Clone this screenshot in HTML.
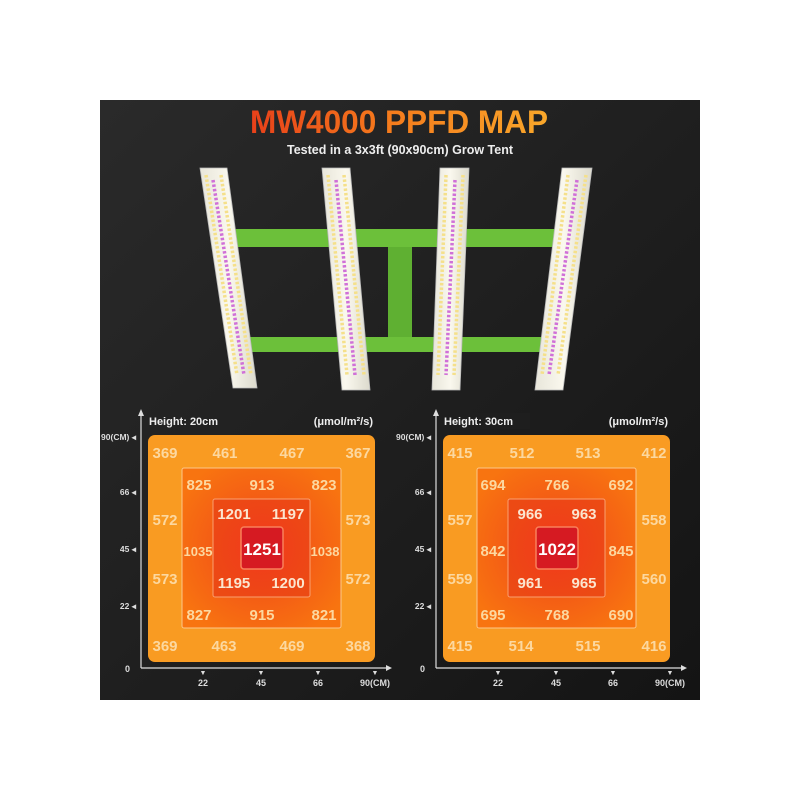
<!DOCTYPE html>
<html><head><meta charset="utf-8"><style>
html,body{margin:0;padding:0;background:#fff;}
svg{display:block;}
text{font-family:"Liberation Sans",Arial,sans-serif;font-weight:bold;}
</style></head><body>
<svg width="800" height="800" viewBox="0 0 800 800" xmlns="http://www.w3.org/2000/svg">
<defs>
<linearGradient id="bg" x1="0" y1="0" x2="1" y2="1"><stop offset="0" stop-color="#2a2a2a"/><stop offset="1" stop-color="#141414"/></linearGradient>
<linearGradient id="tg" x1="0" y1="0" x2="1" y2="0"><stop offset="0" stop-color="#e8401a"/><stop offset="0.45" stop-color="#f57a1c"/><stop offset="1" stop-color="#f9a72a"/></linearGradient>
<radialGradient id="mid" cx="0.5" cy="0.5" r="0.6"><stop offset="0" stop-color="#f0451a"/><stop offset="1" stop-color="#f87410"/></radialGradient>
<radialGradient id="inn" cx="0.5" cy="0.5" r="0.6"><stop offset="0" stop-color="#f23a1c"/><stop offset="1" stop-color="#ec4a14"/></radialGradient>
<linearGradient id="bar" x1="0" y1="0" x2="1" y2="0"><stop offset="0" stop-color="#e8e6da"/><stop offset="0.5" stop-color="#faf8ee"/><stop offset="1" stop-color="#dcdacd"/></linearGradient>
<g id="chart">
  <line x1="141" y1="668" x2="141" y2="413" stroke="#ddd" stroke-width="1.2"/>
  <line x1="141" y1="668" x2="390" y2="668" stroke="#ddd" stroke-width="1.2"/>
  <path d="M138,416 L141,409 L144,416Z M386,665 L392,668 L386,671Z" fill="#ddd"/>
  <rect x="148" y="435" width="227" height="227" rx="7" fill="#f99b22"/>
  <rect x="182" y="468" width="159" height="160" rx="2" fill="url(#mid)" stroke="#fbc78a" stroke-width="1"/>
  <rect x="213" y="499" width="97" height="98" rx="2" fill="url(#inn)" stroke="#f9a070" stroke-width="1"/>
  <rect x="241" y="527" width="42" height="42" rx="3" fill="#d61a22" stroke="#f8805a" stroke-width="1.5"/>
  <g font-size="10" fill="#ddd" font-weight="normal">
    <text x="149" y="425" font-size="11" fill="#eee">Height: 20cm</text>
    <text x="373" y="425" font-size="11" fill="#eee" text-anchor="end">(μmol/m²/s)</text>
    <text x="136" y="440" text-anchor="end" font-size="8.5">90(CM) ◂</text>
    <text x="136" y="495" text-anchor="end" font-size="8.5">66 ◂</text>
    <text x="136" y="552" text-anchor="end" font-size="8.5">45 ◂</text>
    <text x="136" y="609" text-anchor="end" font-size="8.5">22 ◂</text>
    <text x="130" y="672" text-anchor="end" font-size="9">0</text>
    <text x="203" y="675" text-anchor="middle" font-size="7">▼</text>
    <text x="261" y="675" text-anchor="middle" font-size="7">▼</text>
    <text x="318" y="675" text-anchor="middle" font-size="7">▼</text>
    <text x="375" y="675" text-anchor="middle" font-size="7">▼</text>
    <text x="203" y="686" text-anchor="middle" font-size="9">22</text>
    <text x="261" y="686" text-anchor="middle" font-size="9">45</text>
    <text x="318" y="686" text-anchor="middle" font-size="9">66</text>
    <text x="375" y="686" text-anchor="middle" font-size="9">90(CM)</text>
  </g>
</g>
</defs>
<rect x="100" y="100" width="600" height="600" fill="url(#bg)"/>
<text x="399" y="133" font-size="32" text-anchor="middle" fill="url(#tg)" textLength="298" lengthAdjust="spacingAndGlyphs">MW4000 PPFD MAP</text>
<text x="400" y="154" font-size="12.5" text-anchor="middle" fill="#eee">Tested in a 3x3ft (90x90cm) Grow Tent</text>

<rect x="228" y="229" width="332" height="18" fill="#6cc03a"/>
<rect x="248" y="337" width="296" height="15" fill="#6cc03a"/>
<rect x="388" y="247" width="24" height="90" fill="#5fb032"/>
<g stroke="#bbb" stroke-width="0.8">
<polygon points="200,168 227,168 257,388 233,388" fill="url(#bar)"/>
<polygon points="322,168 350,168 370,390 342,390" fill="url(#bar)"/>
<polygon points="440,168 469,168 460,390 432,390" fill="url(#bar)"/>
<polygon points="562,168 592,168 563,390 535,390" fill="url(#bar)"/>
</g>
<g stroke-dasharray="2.5 2" stroke-width="3.5" fill="none">
<line x1="206" y1="175" x2="237" y2="375" stroke="#f5e08a"/>
<line x1="221" y1="175" x2="251" y2="375" stroke="#f5e08a"/>
<line x1="213" y1="180" x2="244" y2="375" stroke="#d070d8"/>
<line x1="328" y1="175" x2="347" y2="375" stroke="#f5e08a"/>
<line x1="344" y1="175" x2="364" y2="375" stroke="#f5e08a"/>
<line x1="336" y1="180" x2="355" y2="375" stroke="#d070d8"/>
<line x1="446" y1="175" x2="438" y2="375" stroke="#f5e08a"/>
<line x1="463" y1="175" x2="454" y2="375" stroke="#f5e08a"/>
<line x1="455" y1="180" x2="446" y2="375" stroke="#d070d8"/>
<line x1="568" y1="175" x2="542" y2="375" stroke="#f5e08a"/>
<line x1="586" y1="175" x2="558" y2="375" stroke="#f5e08a"/>
<line x1="577" y1="180" x2="549" y2="375" stroke="#d070d8"/>
</g>

<use href="#chart"/>
<use href="#chart" transform="translate(295,0)"/>

<g font-size="15" text-anchor="middle" fill="#fcd8a0">
<text x="165" y="458">369</text><text x="225" y="458">461</text><text x="292" y="458">467</text><text x="358" y="458">367</text>
<text x="165" y="525">572</text><text x="358" y="525">573</text>
<text x="165" y="584">573</text><text x="358" y="584">572</text>
<text x="165" y="651">369</text><text x="224" y="651">463</text><text x="292" y="651">469</text><text x="358" y="651">368</text>
<text x="199" y="490">825</text><text x="262" y="490">913</text><text x="324" y="490">823</text>
<text x="198" y="556" font-size="13">1035</text><text x="325" y="556" font-size="13">1038</text>
<text x="199" y="620">827</text><text x="262" y="620">915</text><text x="324" y="620">821</text>
<text x="460" y="458">415</text><text x="522" y="458">512</text><text x="588" y="458">513</text><text x="654" y="458">412</text>
<text x="460" y="525">557</text><text x="654" y="525">558</text>
<text x="460" y="584">559</text><text x="654" y="584">560</text>
<text x="460" y="651">415</text><text x="521" y="651">514</text><text x="588" y="651">515</text><text x="654" y="651">416</text>
<text x="493" y="490">694</text><text x="557" y="490">766</text><text x="621" y="490">692</text>
<text x="493" y="556">842</text><text x="621" y="556">845</text>
<text x="493" y="620">695</text><text x="557" y="620">768</text><text x="621" y="620">690</text>
</g>
<g font-size="15" text-anchor="middle" fill="#fbe6d0">
<text x="234" y="519">1201</text><text x="288" y="519">1197</text>
<text x="234" y="588">1195</text><text x="288" y="588">1200</text>
<text x="530" y="519">966</text><text x="584" y="519">963</text>
<text x="530" y="588">961</text><text x="584" y="588">965</text>
</g>
<g font-size="17" text-anchor="middle" fill="#fff">
<text x="262" y="555">1251</text>
<text x="557" y="555">1022</text>
</g>
<rect x="440" y="413" width="90" height="16" fill="#1e1e1e"/>
<text x="444" y="425" font-size="11" fill="#eee">Height: 30cm</text>
</svg>
</body></html>
